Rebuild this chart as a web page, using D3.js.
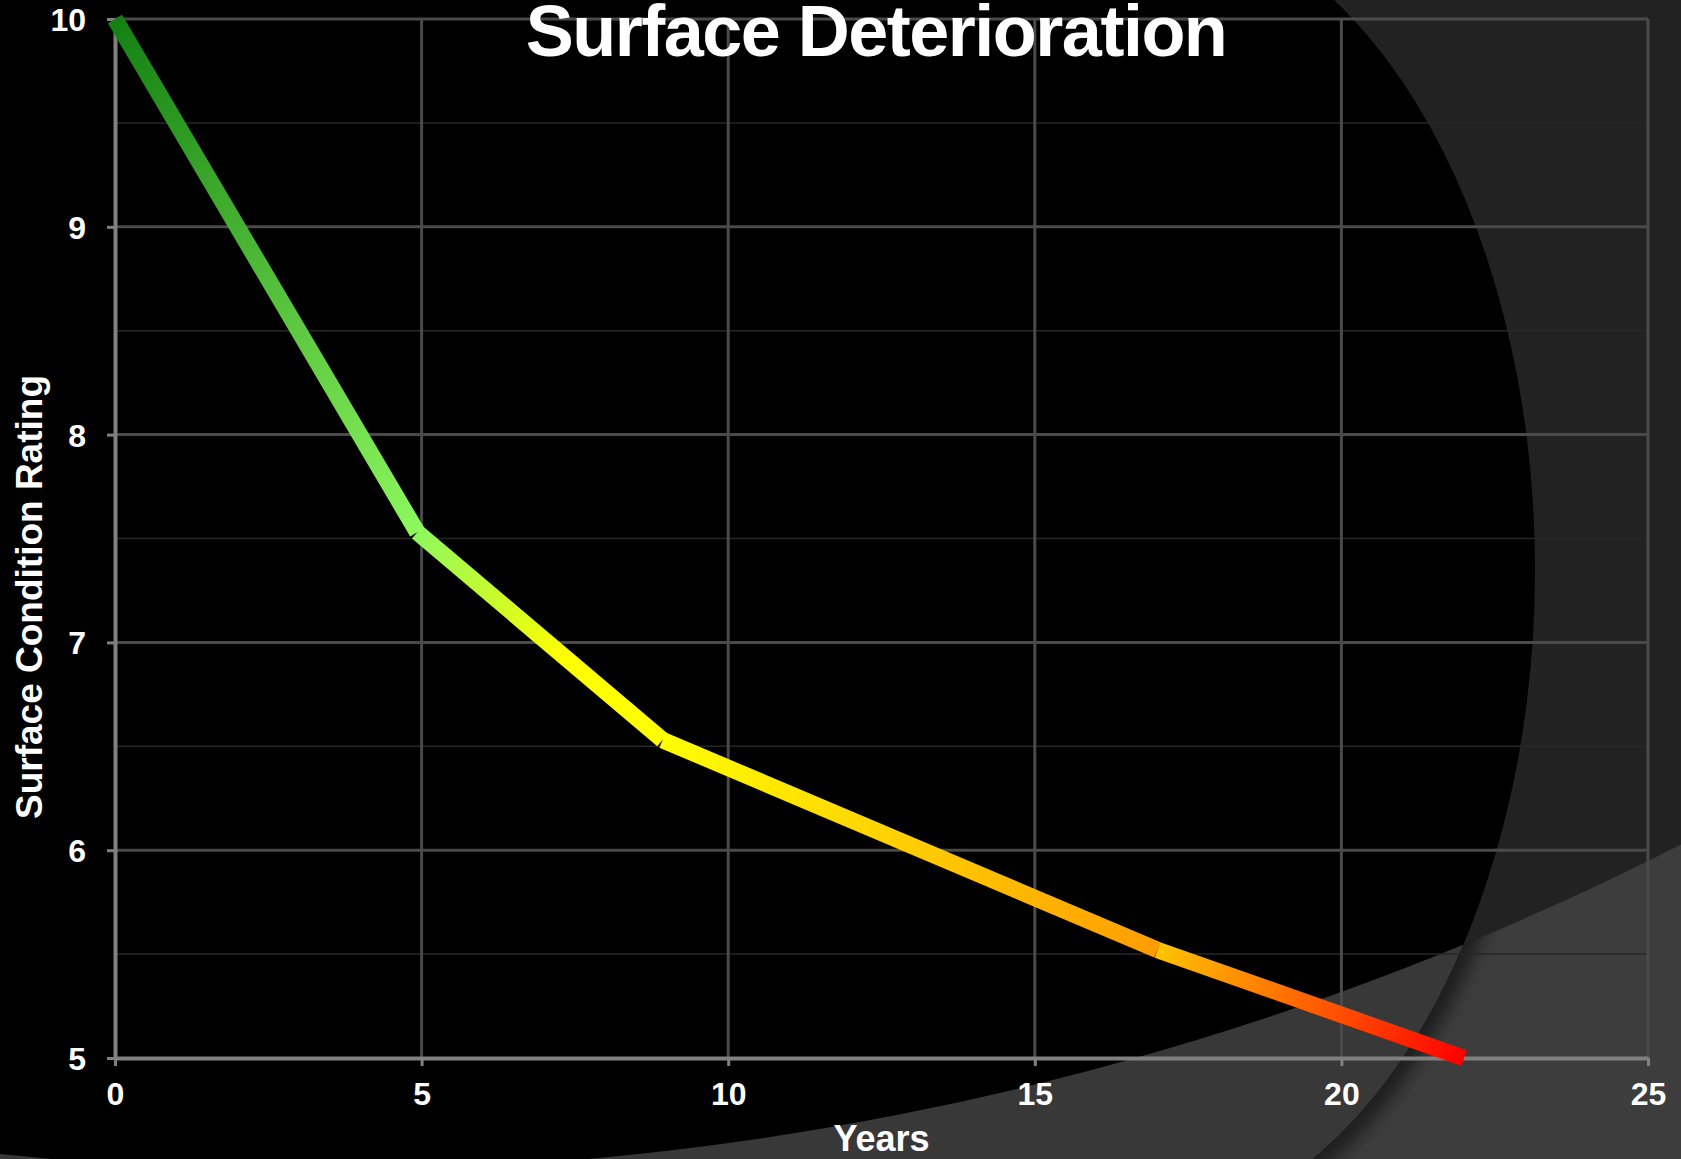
<!DOCTYPE html>
<html>
<head>
<meta charset="utf-8">
<script src="https://cdn.jsdelivr.net/npm/d3@7"></script>
<style>
  html, body { margin: 0; padding: 0; background: #000; }
  svg { display: block; }
  text { font-family: "Liberation Sans", Arial, sans-serif; font-weight: bold; fill: #fff; }
</style>
</head>
<body>
<svg width="1681" height="1159"></svg>
<script>
(function(d3) {
  'use strict';

  // values
  const years = [0, 4.93, 8.93, 17, 22];
  const ratings = [10, 7.53, 6.53, 5.52, 5];
  const xTicks = [0, 5, 10, 15, 20, 25];
  const yTicks = [5, 6, 7, 8, 9, 10];
  const yMinorTicks = [5.5, 6.5, 7.5, 8.5, 9.5];
  const title = 'Surface Deterioration';
  const xTitle = 'Years';
  const yTitle = 'Surface Condition Rating';

  // one gradient per segment, from its start to its end
  const segmentStops = [
    [[0, '#138013'], [1, '#8ef85e']],
    [[0, '#8ef85e'], [0.6, '#ffff00'], [1, '#ffff00']],
    [[0, '#ffff00'], [1, '#ff9c00']],
    [[0, '#ffc400'], [0.45, '#ff6a00'], [1, '#ff0000']],
  ];

  const svg = d3.select('svg');
  const width = +svg.attr('width');
  const height = +svg.attr('height');

  const margin = {top: 19, right: 33, bottom: 101, left: 115};
  const innerWidth = width - margin.left - margin.right;
  const innerHeight = height - margin.top - margin.bottom;

  const xScale = d3.scaleLinear().domain([0, 25]).range([margin.left, margin.left + innerWidth]);
  const yScale = d3.scaleLinear().domain([5, 10]).range([margin.top + innerHeight, margin.top]);

  const defs = svg.append('defs');

  // --- slide background: dark ellipse on the left, lighter band at the bottom
  const ell = {cx: 1130, cy: 570, rx: 405, ry: 660};
  const band = {cx: 320, cy: 1171 - 3000, r: 3000};

  const bandPath = d3.path();
  bandPath.rect(0, 0, width, height);
  bandPath.moveTo(band.cx + band.r, band.cy);
  bandPath.arc(band.cx, band.cy, band.r, 0, 2 * Math.PI);

  const darkClip = defs.append('clipPath').attr('id', 'darkClip');
  darkClip.append('rect').attr('x', 0).attr('y', 0).attr('width', ell.cx).attr('height', height);
  darkClip.append('ellipse').attr('cx', ell.cx).attr('cy', ell.cy).attr('rx', ell.rx).attr('ry', ell.ry);

  const bandClip = defs.append('clipPath').attr('id', 'bandClip');
  bandClip.append('path').attr('d', bandPath.toString()).attr('clip-rule', 'evenodd');

  defs.append('filter').attr('id', 'soft')
      .attr('x', '-20%').attr('y', '-20%').attr('width', '140%').attr('height', '140%')
      .append('feGaussianBlur').attr('stdDeviation', 9);

  const bg = svg.append('g');
  bg.append('rect').attr('width', width).attr('height', height).attr('fill', '#222');
  bg.append('path').attr('d', bandPath.toString()).attr('fill-rule', 'evenodd').attr('fill', '#3d3d3d');
  bg.append('g').attr('clip-path', 'url(#bandClip)')
      .append('ellipse')
      .attr('cx', ell.cx).attr('cy', ell.cy).attr('rx', ell.rx).attr('ry', ell.ry)
      .attr('fill', 'none').attr('stroke', '#000').attr('stroke-width', 26)
      .attr('opacity', 0.55).attr('filter', 'url(#soft)');
  bg.append('rect').attr('width', ell.cx).attr('height', height).attr('fill', '#000');
  bg.append('ellipse').attr('cx', ell.cx).attr('cy', ell.cy).attr('rx', ell.rx).attr('ry', ell.ry)
      .attr('fill', '#000');
  bg.append('path').attr('d', bandPath.toString()).attr('fill-rule', 'evenodd')
      .attr('fill', '#383838').attr('clip-path', 'url(#darkClip)');

  // --- gridlines
  const grid = svg.append('g');
  grid.selectAll('line.minor').data(yMinorTicks).join('line')
      .attr('class', 'minor')
      .attr('x1', margin.left).attr('x2', margin.left + innerWidth)
      .attr('y1', (d) => yScale(d)).attr('y2', (d) => yScale(d))
      .attr('stroke', '#272727').attr('stroke-width', 1.5);
  grid.selectAll('line.major').data(yTicks.filter((d) => d > 5)).join('line')
      .attr('class', 'major')
      .attr('x1', margin.left).attr('x2', margin.left + innerWidth)
      .attr('y1', (d) => yScale(d)).attr('y2', (d) => yScale(d))
      .attr('stroke', '#4a4a4a').attr('stroke-width', 3);
  grid.selectAll('line.vert').data(xTicks.filter((d) => d > 0)).join('line')
      .attr('class', 'vert')
      .attr('x1', (d) => xScale(d)).attr('x2', (d) => xScale(d))
      .attr('y1', margin.top).attr('y2', margin.top + innerHeight)
      .attr('stroke', '#4a4a4a').attr('stroke-width', 3);

  // --- axes
  const yAxis = d3.axisLeft(yScale).tickValues(yTicks).tickFormat(d3.format('d'))
      .tickSize(8).tickSizeOuter(0).tickPadding(21);
  const xAxis = d3.axisBottom(xScale).tickValues(xTicks).tickFormat(d3.format('d'))
      .tickSize(8).tickSizeOuter(0).tickPadding(16);

  const yAxisG = svg.append('g').attr('transform', `translate(${margin.left},0)`).call(yAxis);
  const xAxisG = svg.append('g').attr('transform', `translate(0,${margin.top + innerHeight})`).call(xAxis);

  [yAxisG, xAxisG].forEach(function(g) {
    g.select('.domain').attr('stroke', '#808080').attr('stroke-width', 4);
    g.selectAll('.tick line').attr('stroke', '#808080').attr('stroke-width', 3);
    g.selectAll('.tick text')
        .attr('fill', '#fff')
        .style('font-family', '"Liberation Sans", Arial, sans-serif')
        .style('font-weight', 'bold')
        .style('font-size', '32px');
  });
  yAxisG.selectAll('.tick text').attr('dy', '0.36em');

  // --- the deterioration curve, one gradient segment at a time
  const segments = d3.range(years.length - 1).map(function(i) {
    return [
      {x: years[i], y: ratings[i]},
      {x: years[i + 1], y: ratings[i + 1]},
    ];
  });

  segments.forEach(function(seg, i) {
    const grad = defs.append('linearGradient')
        .attr('id', 'seg' + i)
        .attr('gradientUnits', 'userSpaceOnUse')
        .attr('x1', xScale(seg[0].x)).attr('y1', yScale(seg[0].y))
        .attr('x2', xScale(seg[1].x)).attr('y2', yScale(seg[1].y));
    grad.selectAll('stop').data(segmentStops[i]).join('stop')
        .attr('offset', (d) => d[0])
        .attr('stop-color', (d) => d[1]);
  });

  const line = d3.line().x((d) => xScale(d.x)).y((d) => yScale(d.y));

  svg.append('g').selectAll('path').data(segments).join('path')
      .attr('d', line)
      .attr('fill', 'none')
      .attr('stroke', (d, i) => `url(#seg${i})`)
      .attr('stroke-width', 16.5)
      .attr('stroke-linecap', 'butt')
      .attr('stroke-linejoin', 'miter');

  // --- titles
  svg.append('text')
      .attr('x', 876).attr('y', 56)
      .attr('text-anchor', 'middle')
      .style('font-size', '72px')
      .style('letter-spacing', '-1.5px')
      .text(title);

  svg.append('text')
      .attr('x', margin.left + innerWidth / 2).attr('y', 1151)
      .attr('text-anchor', 'middle')
      .style('font-size', '36px')
      .text(xTitle);

  svg.append('text')
      .attr('transform', 'translate(42,597) rotate(-90)')
      .attr('text-anchor', 'middle')
      .style('font-size', '37px')
      .text(yTitle);
}(d3));
</script>
</body>
</html>
